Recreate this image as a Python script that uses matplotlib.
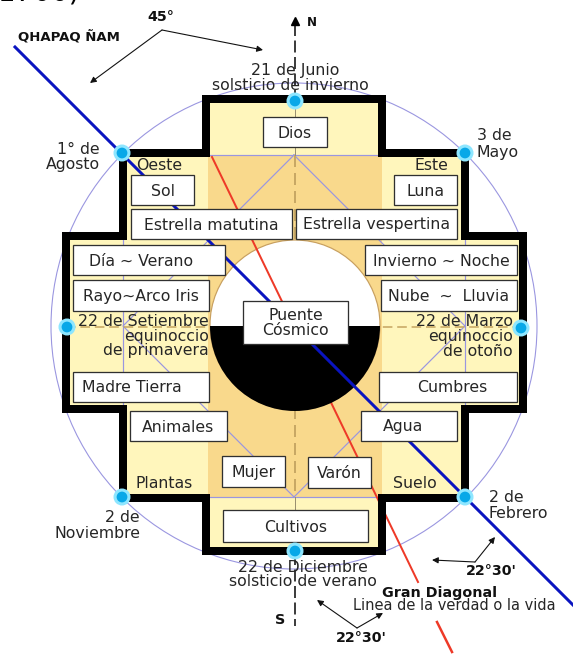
import matplotlib
matplotlib.use("Agg")
import matplotlib.pyplot as plt
from matplotlib.patches import Polygon, Rectangle, Circle, Wedge

# ---------------------------------------------------------------
# Diagram content (pixel coordinates of the 573x656 picture)

box_labels = ["Dios", "Sol", "Luna", "Estrella matutina", "Estrella vespertina",
              "Día ~ Verano", "Invierno ~ Noche", "Rayo~Arco Iris", "Nube  ~  Lluvia",
              "Madre Tierra", "Cumbres", "Animales", "Agua", "Mujer", "Varón", "Cultivos"]
box_rects = [(263, 117, 327, 147), (131, 175, 194, 205), (394, 175, 457, 205),
             (131, 209, 292, 239), (296, 209, 457, 239),
             (73, 245, 225, 275), (365, 245, 517, 275),
             (73, 280, 209, 311), (381, 280, 517, 311),
             (73, 372, 209, 402), (379, 372, 517, 402),
             (130, 411, 227, 441), (361, 411, 457, 441),
             (222, 456, 285, 487), (308, 457, 371, 488),
             (223, 510, 368, 542)]
box_text_x = [None, None, None, None, None, 141, None, None, None,
              132, 452, None, 403, None, None, None]

center_label = "Puente\nCósmico"

# plain labels: text, x, y, horizontal alignment
free_labels = ["1° de", "Agosto", "3 de", "Mayo", "Oeste", "Este",
               "22 de Setiembre", "equinoccio", "de primavera",
               "22 de Marzo", "equinoccio", "de otoño",
               "Plantas", "Suelo", "2 de", "Noviembre", "2 de", "Febrero",
               "21 de Junio", "solsticio de invierno",
               "22 de Diciembre", "solsticio de verano",
               "Linea de la verdad o la vida"]
free_pos = [(100, 149, "right"), (100, 165, "right"), (477, 136, "left"), (477, 153, "left"),
            (159, 166, "center"), (431, 166, "center"),
            (209, 321, "right"), (209, 337, "right"), (209, 351, "right"),
            (513, 321, "right"), (513, 337, "right"), (513, 351, "right"),
            (164, 484, "center"), (415, 484, "center"),
            (140, 518, "right"), (140, 534, "right"), (489, 497, "left"), (489, 513, "left"),
            (295, 71, "center"), (290, 86, "center"),
            (303, 567, "center"), (303, 582, "center"),
            (454, 605, "center")]

bold_labels = ["QHAPAQ ÑAM", "45°", "N", "S", "Gran Diagonal", "22°30'", "22°30'"]
bold_pos = [(69, 37), (161, 17), (312, 22), (280, 620), (440, 593), (491, 571), (361, 638)]

# cyan markers on the cross
dot_x = [295, 122, 465, 67, 521, 122, 465, 295]
dot_y = [101, 153, 153, 327, 328, 497, 497, 551]

# cross outline
cross_x = [206, 382, 382, 465, 465, 523, 523, 465, 465, 382, 382, 206, 206, 123, 123, 66, 66, 123, 123, 206]
cross_y = [99, 99, 153, 153, 236, 236, 409, 409, 498, 498, 551, 551, 498, 498, 409, 409, 236, 236, 153, 153]

# angle arrows: vertex and the two arrow tips
angle_vertex = [(162, 30), (475, 562), (357, 628)]
angle_tips = [[(90, 83), (263, 50)], [(432, 560), (495, 537)], [(317, 600), (383, 613)]]

W, H = 573, 656
PX = 72 / 100.0  # one pixel in points

LIGHT = "#FFF6BC"
DARK = "#F9D98C"
LAV = "#9A96E0"
TAN = "#C8A864"
TXT = "#262626"

fig = plt.figure(figsize=(W / 100, H / 100), dpi=100)
ax = fig.add_axes([0, 0, 1, 1])
ax.set_xlim(0, W)
ax.set_ylim(H, 0)
ax.axis("off")

# big lavender circle
ax.add_patch(Circle((294, 326), 243, fill=False, edgecolor=LAV, lw=1.1 * PX, zorder=1))

# cross fill and central square
cross = list(zip(cross_x, cross_y))
ax.add_patch(Polygon(cross, closed=True, facecolor=LIGHT, edgecolor="none", zorder=2))
ax.add_patch(Rectangle((208, 155), 174, 342, facecolor=DARK, edgecolor="none", zorder=3))

# thin lavender construction lines
ax.plot([294, 123, 294, 465, 294], [155, 326, 497, 326, 155], color=LAV, lw=1.2 * PX, zorder=4)
ax.plot([206, 382], [155, 155], color=LAV, lw=1.2 * PX, zorder=4)
ax.plot([206, 382], [497, 497], color=LAV, lw=1.2 * PX, zorder=4)
ax.plot([123, 123], [236, 409], color=LAV, lw=1.2 * PX, zorder=4)
ax.plot([465, 465], [236, 409], color=LAV, lw=1.2 * PX, zorder=4)

# north-south and east-west axes
ax.plot([295, 295], [155, 497], color=TAN, lw=2 * PX, dashes=[6, 3], zorder=4)
ax.plot([295, 295], [101, 155], color="#9a9070", lw=1 * PX, zorder=4)
ax.plot([295, 295], [497, 551], color="#9a9070", lw=1 * PX, zorder=4)
ax.plot([66, 523], [327, 327], color=TAN, lw=1.6 * PX, dashes=[6, 3], zorder=4)
ax.plot([295, 295], [24, 99], color="black", lw=1.5 * PX, dashes=[8, 3], zorder=4)
ax.plot([295, 295], [553, 626], color="black", lw=1.5 * PX, dashes=[8, 3], zorder=4)
ax.plot([295], [21], marker="^", color="black", markersize=6, zorder=5)

# central disc: white upper half, black lower half
ax.add_patch(Circle((295, 325), 85, facecolor="white", edgecolor="#C8A060", lw=1.2 * PX, zorder=5))
# red "Gran Diagonal"
ax.plot([212, 418], [157, 582], color="#EE3A28", lw=2 * PX, zorder=6)
ax.plot([437, 452], [622, 652], color="#EE3A28", lw=2.5 * PX, zorder=6)
ax.add_patch(Wedge((295, 326), 85, 0, 180, facecolor="black", edgecolor="none", zorder=7))

# thick cross outline
ax.add_patch(Polygon(cross, closed=True, fill=False, edgecolor="black", lw=8 * PX,
                     joinstyle="miter", zorder=8))

# blue Qhapaq Nam
ax.plot([15, 573], [47, 605], color="#0A14C0", lw=3 * PX, zorder=9)

# boxes
for label, (x0, y0, x1, y1), tx in zip(box_labels, box_rects, box_text_x):
    ax.add_patch(Rectangle((x0, y0), x1 - x0, y1 - y0, facecolor="white",
                           edgecolor="#303030", lw=1.3 * PX, zorder=10))
    if tx is None:
        tx = (x0 + x1) / 2
    ax.text(tx, (y0 + y1) / 2 + 1, label, ha="center", va="center", fontsize=11.3,
            color=TXT, family="DejaVu Sans", zorder=11)

ax.add_patch(Rectangle((243, 301), 105, 43, facecolor="white", edgecolor="#303030",
                       lw=1.3 * PX, zorder=10))
ax.text(295.5, 323, center_label, ha="center", va="center", fontsize=11.3, color=TXT,
        linespacing=0.95, family="DejaVu Sans", zorder=11)

# plain labels
for label, (x, y, ha) in zip(free_labels, free_pos):
    ax.text(x, y, label, ha=ha, va="center", fontsize=11.3 if label[0] != "L" else 10.5,
            color=TXT, family="DejaVu Sans", zorder=11)

for label, (x, y) in zip(bold_labels, bold_pos):
    size = 9.5 if label == "QHAPAQ ÑAM" else (8.5 if label == "N" else 10.3)
    ax.text(x, y, label, ha="center", va="center", fontsize=size, fontweight="bold",
            color="#111111", family="DejaVu Sans", zorder=11)

# angle arrows
for (vx, vy), tips in zip(angle_vertex, angle_tips):
    for (tx, ty) in tips:
        ax.annotate("", xy=(tx, ty), xytext=(vx, vy),
                    arrowprops=dict(arrowstyle="-|>", color="#111111", lw=1.1 * PX,
                                    mutation_scale=9, shrinkA=0, shrinkB=0),
                    zorder=11)

# cyan markers
ax.scatter(dot_x, dot_y, s=150, color="#8EE6FF", edgecolors="none", zorder=12)
ax.scatter(dot_x, dot_y, s=60, color="#08A8E8", edgecolors="none", zorder=13)

# clipped caption remnant at the very top
ax.text(-2, 0.5, "1700)", ha="left", va="baseline", fontsize=20, color="black",
        family="DejaVu Sans", zorder=11)

fig.savefig("out.png", dpi=100, facecolor="white")
